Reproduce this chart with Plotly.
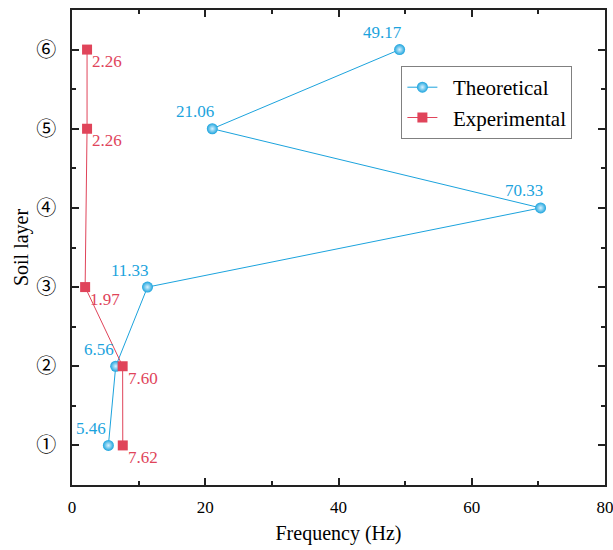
import plotly.graph_objects as go

layers = [1, 2, 3, 4, 5, 6]
layer_labels = ["①", "②", "③", "④", "⑤", "⑥"]
theoretical = [5.46, 6.56, 11.33, 70.33, 21.06, 49.17]
exp_layers = [1, 2, 3, 5, 6]
experimental = [7.62, 7.60, 1.97, 2.26, 2.26]

blue = "#1ba3dd"
red = "#e0445a"
font_family = "Times New Roman, Liberation Serif, serif"

fig = go.Figure()
fig.add_trace(go.Scatter(
    x=theoretical, y=layers, mode="lines+markers", name="\u00a0\u00a0Theoretical",
    line=dict(color=blue, width=1),
    marker=dict(symbol="circle", size=11, color=blue,
                gradient=dict(type="radial", color="#d8f2ff"),
                line=dict(width=0)),
))
fig.add_trace(go.Scatter(
    x=experimental, y=exp_layers, mode="lines+markers", name="\u00a0\u00a0Experimental",
    line=dict(color=red, width=1),
    marker=dict(symbol="square", size=10, color=red, line=dict(width=0)),
))

for xv, yv in zip(theoretical, layers):
    fig.add_annotation(x=xv, y=yv, text=f"{xv:.2f}", showarrow=False,
                       xanchor="center", yanchor="middle", xshift=-17, yshift=17,
                       font=dict(color=blue, size=17, family=font_family))
for xv, yv in zip(experimental, exp_layers):
    fig.add_annotation(x=xv, y=yv, text=f"{xv:.2f}", showarrow=False,
                       xanchor="left", yanchor="middle", xshift=3, yshift=-12,
                       font=dict(color=red, size=17, family=font_family))

fig.update_layout(
    width=613, height=550,
    margin=dict(l=72, r=8, t=10, b=65, autoexpand=False),
    plot_bgcolor="white", paper_bgcolor="white",
    font=dict(family=font_family, size=16, color="black"),
    showlegend=True,
    legend=dict(x=0.618, y=0.882, xanchor="left", yanchor="top",
                bordercolor="#808080", borderwidth=1, bgcolor="white",
                font=dict(size=21, family=font_family), tracegroupgap=0),
)
fig.update_xaxes(
    range=[0, 80], tickvals=[0, 20, 40, 60, 80], automargin=False,
    ticklabeloverflow="allow",
    ticks="inside", ticklen=7, tickwidth=1.5, tickcolor="#222",
    minor=dict(ticks="inside", ticklen=4, dtick=10, tickcolor="#222", tickwidth=1.5),
    showline=True, linecolor="#222", linewidth=1.5, mirror="allticks",
    showgrid=False, zeroline=False, ticklabelstandoff=6,
    title=dict(text="Frequency (Hz)", font=dict(size=20, family=font_family), standoff=10),
    tickfont=dict(size=17, family=font_family),
)
fig.update_yaxes(
    range=[0.5, 6.5], tickvals=layers, ticktext=layer_labels, automargin=False,
    ticklabeloverflow="allow",
    ticks="inside", ticklen=7, tickwidth=1.5, tickcolor="#222",
    minor=dict(ticks="inside", ticklen=4, dtick=0.5, tickcolor="#222", tickwidth=1.5),
    showline=True, linecolor="#222", linewidth=1.5, mirror="allticks",
    showgrid=False, zeroline=False, ticklabelstandoff=10,
    title=dict(text="Soil layer", font=dict(size=20, family=font_family), standoff=2),
    tickfont=dict(size=20, family="Noto Sans CJK SC"),
)

fig.write_html("out.html")
